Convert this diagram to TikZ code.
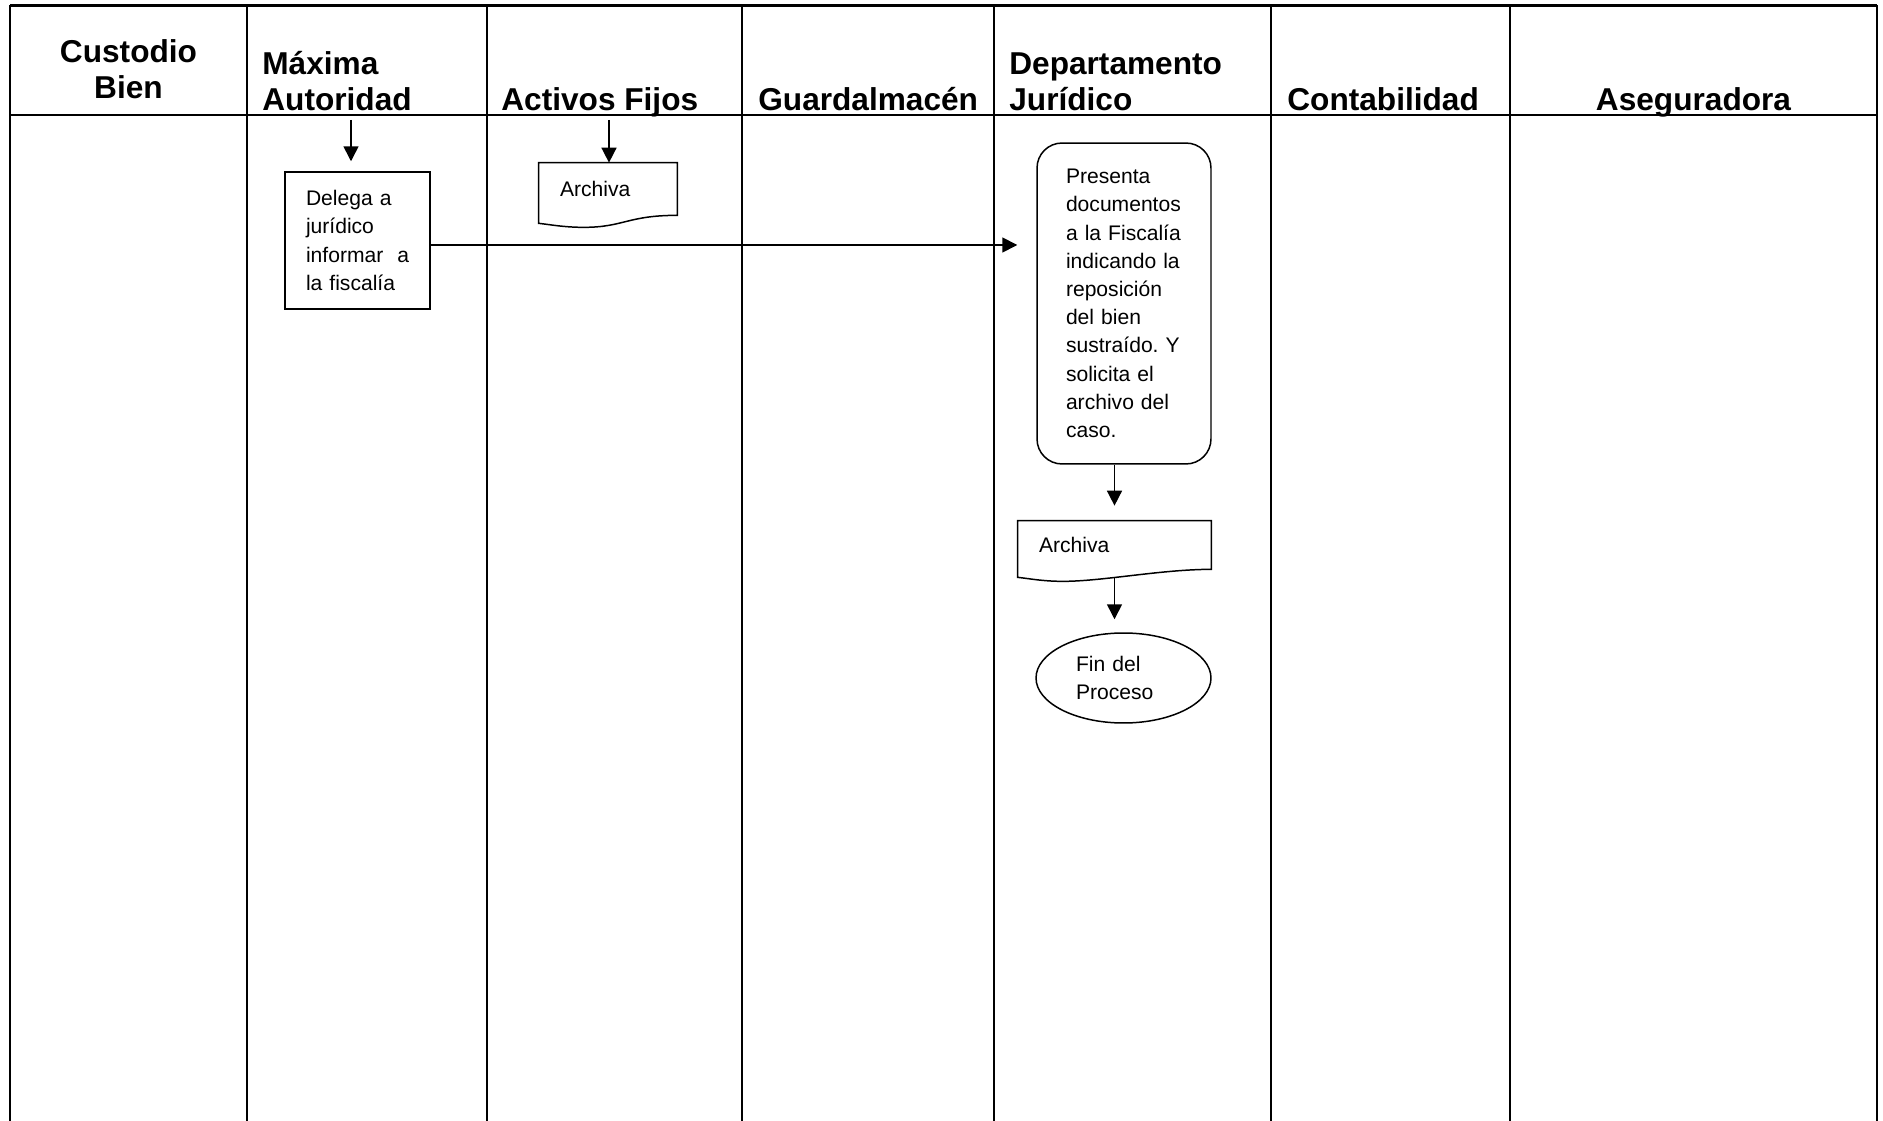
\documentclass[tikz,border=0pt]{standalone}
\usepackage{fontspec}
\setmainfont{Liberation Sans}
\usetikzlibrary{shapes.geometric,arrows.meta,calc}

% document symbol: flat top, wavy bottom drawn from the node's anchors
\newcommand{\docsymbol}[1]{%
  \draw[boxline] (#1.south east)
    .. controls +(-50,0) and +(40,0) .. ($(#1.south west)+(45,12)$)
    .. controls +(-20,0) and +(10,1) .. ($(#1.south west)+(0,8)$)
    -- (#1.north west) -- (#1.north east) -- cycle;}

\begin{document}
\begin{tikzpicture}[x=0.02cm,y=-0.02cm,
  frame/.style={line width=1.35pt},
  lane/.style={line width=1.1pt},
  boxline/.style={line width=0.85pt},
  head/.style={font=\fontsize{18}{20.5}\selectfont\bfseries, inner sep=0pt},
  txt/.style={font=\fontsize{12}{16.05}\selectfont, align=left},
  procbox/.style={txt, draw, boxline, rectangle, inner ysep=0pt},
  docbox/.style={txt, rectangle, inner ysep=0pt},
  conn/.style={line width=0.9pt, -{Triangle[length=8.5pt,width=8.5pt]}}]

\useasboundingbox (0,0) rectangle (1883,1121);

% swimlane frame
\draw[frame] (10,5.5) -- (1877,5.5);
\draw[frame] (10,115) -- (1877,115);
\foreach \lx in {10,1877} \draw[frame] (\lx,5.5) -- (\lx,1121);
\foreach \lx in {247,487,742,994,1271,1510} \draw[lane] (\lx,5.5) -- (\lx,1121);

% lane titles
\node[head, align=center, anchor=base] (hcust) at (128.5,99) {Custodio\\Bien};
\node[head, align=left, anchor=base west] (hmax) at (262,111) {Máxima\\Autoridad};
\node[head, anchor=base west] (hact) at (501,111) {Activos Fijos};
\node[head, anchor=base west] (hguar) at (758,111) {Guardalmacén};
\node[head, align=left, anchor=base west] (hjur) at (1009,111) {Departamento\\Jurídico};
\node[head, anchor=base west] (hcont) at (1287,111) {Contabilidad};
\node[head, anchor=base] (haseg) at (1693.5,111) {Aseguradora};

% process steps
\node[procbox, minimum width=2.9cm, minimum height=2.74cm,
      text width=2.06cm, inner xsep=0.42cm] (delega) at (357.5,240.5)
  {Delega a\\jurídico\\informar~ a\\la fiscalía};

\node[docbox, minimum width=2.76cm, minimum height=1.04cm,
      text width=1.92cm, inner xsep=0.42cm] (archA) at (608,189) {Archiva};
\docsymbol{archA}

\node[txt, draw, boxline, rectangle, rounded corners=0.5cm, inner ysep=0pt,
      minimum width=3.48cm, minimum height=6.42cm,
      text width=2.32cm, inner xsep=0.58cm] (presenta) at (1124,303.5)
  {Presenta\\documentos\\a la Fiscalía\\indicando la\\reposición\\del bien\\sustraído.~Y\\solicita el\\archivo del\\caso.};

\node[docbox, minimum width=3.86cm, minimum height=0.96cm,
      text width=3.02cm, inner xsep=0.42cm] (archB) at (1114.5,545) {Archiva};
\docsymbol{archB}

\node[txt, draw, boxline, ellipse, inner sep=0pt, text width=1.9cm,
      minimum width=3.5cm, minimum height=1.8cm] (fin) at (1123.5,678)
  {Fin del\\Proceso};

% connectors
\coordinate (startA) at (351,120);
\coordinate (startB) at (609,120);
\draw[conn, shorten >=0.2cm] (startA) -- (startA |- delega.north);
\draw[conn] (startB) -- (startB |- archA.north);
\draw[conn, shorten >=0.38cm] ([yshift=-0.09cm]delega.east) -- ([yshift=-0.09cm]presenta.west |- delega.east);
\draw[conn, shorten >=0.3cm] (presenta.south -| archB.north) -- (archB.north);
\draw[conn, shorten >=0.26cm] ([yshift=-0.18cm]archB.south) -- (archB.south |- fin.north);

\end{tikzpicture}
\end{document}
